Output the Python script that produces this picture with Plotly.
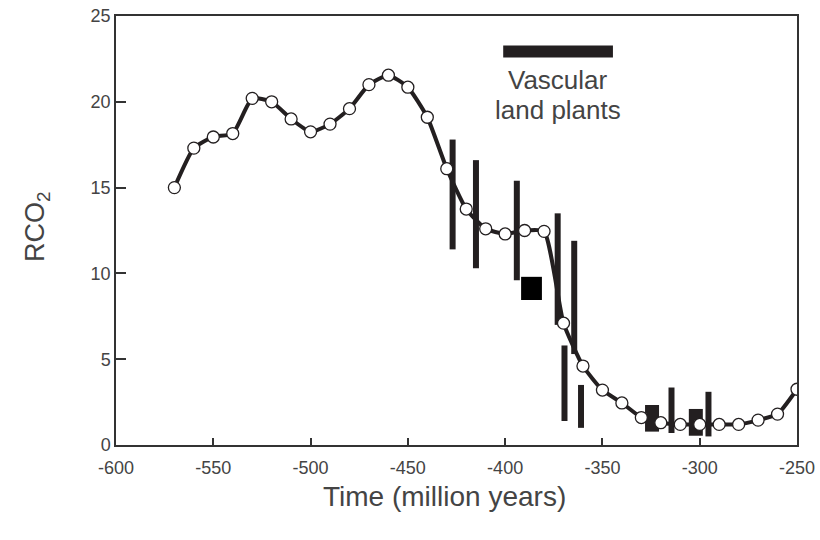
import plotly.graph_objects as go

# Main RCO2 curve
time_myr = [-570, -560, -550, -540, -530, -520, -510, -500, -490, -480, -470, -460,
            -450, -440, -430, -420, -410, -400, -390, -380, -370, -360, -350, -340,
            -330, -320, -310, -300, -290, -280, -270, -260, -250]
rco2 = [15.0, 17.3, 17.95, 18.15, 20.2, 20.0, 19.0, 18.25, 18.7, 19.6, 21.0, 21.55,
        20.85, 19.1, 16.1, 13.75, 12.6, 12.3, 12.5, 12.45, 7.1, 4.6, 3.2, 2.45,
        1.6, 1.3, 1.2, 1.2, 1.2, 1.2, 1.45, 1.8, 3.25]

# Proxy ranges (vertical bars)
bar_x = [-427, -415, -394, -373, -364.5, -369.5, -361, -314.5, -295.5]
bar_lo = [11.4, 10.3, 9.6, 7.0, 5.3, 1.4, 1.0, 0.7, 0.5]
bar_hi = [17.8, 16.6, 15.4, 13.5, 11.9, 5.8, 3.5, 3.35, 3.1]

# Proxy boxes
box_x0 = [-391.8, -328.1, -305.6]
box_x1 = [-381.1, -320.9, -298.4]
box_y0 = [8.45, 0.78, 0.54]
box_y1 = [9.8, 2.33, 2.1]
box_colors = ["#000000", "#231f20", "#231f20"]

# Vascular land plants interval
plants_x = [-401, -344.6]
plants_y = 22.93
plants_label = ["Vascular", "land plants"]
plants_label_y = [21.25, 19.55]

x_ticks = [-600, -550, -500, -450, -400, -350, -300, -250]
x_ticktext = ["-600", "-550", "-500", "-450", "-400", "-350", "-300", "-250"]
y_ticks = [0, 5, 10, 15, 20, 25]

FONT = "Liberation Sans"
TXT = "#444444"
DARK = "#231f20"

fig = go.Figure()

# line
fig.add_trace(go.Scatter(x=time_myr, y=rco2, mode="lines",
                         line=dict(color=DARK, width=4, shape="spline", smoothing=0.5),
                         hoverinfo="skip", showlegend=False))

# vertical bars
bx, by = [], []
for x, lo, hi in zip(bar_x, bar_lo, bar_hi):
    bx += [x, x, None]
    by += [lo, hi, None]
fig.add_trace(go.Scatter(x=bx, y=by, mode="lines",
                         line=dict(color=DARK, width=6), showlegend=False))

# boxes
for x0, x1, y0, y1, c in zip(box_x0, box_x1, box_y0, box_y1, box_colors):
    fig.add_trace(go.Scatter(x=[x0, x1, x1, x0, x0], y=[y0, y0, y1, y1, y0],
                             mode="lines", fill="toself", fillcolor=c,
                             line=dict(color=c, width=0), showlegend=False))

# markers
fig.add_trace(go.Scatter(x=time_myr, y=rco2, mode="markers",
                         marker=dict(symbol="circle", size=12, color="white",
                                     line=dict(color=DARK, width=1.3)),
                         showlegend=False))

# vascular plants bar
fig.add_trace(go.Scatter(x=plants_x, y=[plants_y, plants_y], mode="lines",
                         line=dict(color=DARK, width=12), showlegend=False))

for txt, ty in zip(plants_label, plants_label_y):
    fig.add_annotation(x=sum(plants_x) / 2, y=ty, xref="x", yref="y",
                       text=txt, showarrow=False,
                       font=dict(family=FONT, size=26, color=TXT),
                       xanchor="center", yanchor="middle")

# axis titles
fig.add_annotation(x=0.483, y=-0.121, xref="paper", yref="paper",
                   text="Time (million years)", showarrow=False,
                   font=dict(family=FONT, size=28, color=TXT),
                   xanchor="center", yanchor="middle")
fig.add_annotation(x=-0.115, y=0.51, xref="paper", yref="paper",
                   text="RCO<sub>2</sub>", showarrow=False, textangle=-90,
                   font=dict(family=FONT, size=27, color=TXT),
                   xanchor="center", yanchor="middle")

axis_common = dict(showline=True, linecolor="#333", linewidth=1.5, mirror=True,
                   ticks="inside", tickcolor="#333", tickwidth=1.5,
                   showgrid=False, zeroline=False, automargin=False,
                   tickfont=dict(family=FONT, size=18, color=TXT))

fig.update_xaxes(range=[-600, -250], tickvals=x_ticks, ticktext=x_ticktext, ticklen=7,
                 ticklabelstandoff=6, **axis_common)
fig.update_yaxes(range=[0, 25], tickvals=y_ticks, ticklen=10, **axis_common)

fig.update_layout(width=820, height=540, plot_bgcolor="white", paper_bgcolor="white",
                  margin=dict(l=116, r=23, t=16, b=95), showlegend=False)

fig.write_html("out.html")
